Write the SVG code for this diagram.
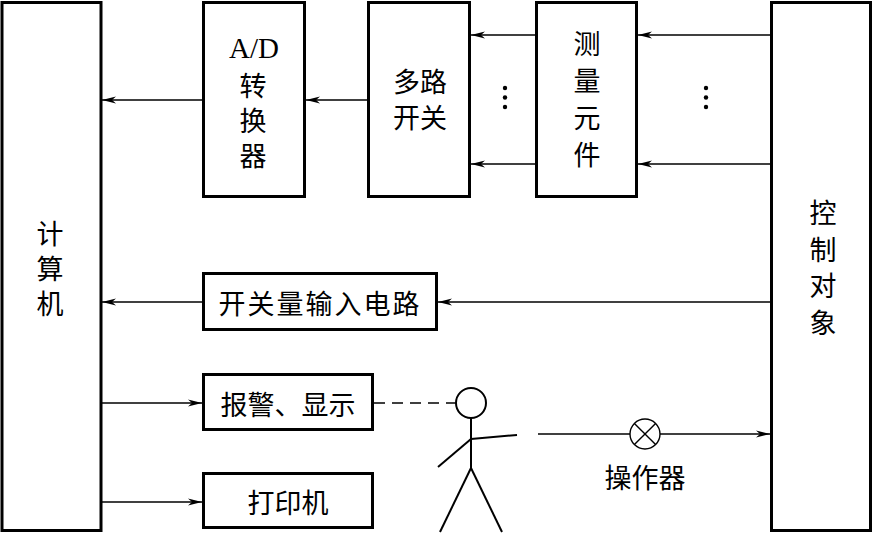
<svg xmlns="http://www.w3.org/2000/svg" width="874" height="535" viewBox="0 0 874 535">
<style>
.box{fill:#fff;stroke:#000;stroke-width:3}
.ln{fill:none;stroke:#000;stroke-width:1.4}
.arr{marker-end:url(#ah)}
.t{font-family:"Noto Sans CJK SC","Noto Sans",sans-serif;font-size:27px;fill:#000;text-anchor:middle;dominant-baseline:central}
.v{font-family:"Noto Sans CJK SC","Noto Sans",sans-serif;font-size:27px;fill:#000;writing-mode:vertical-rl;text-anchor:start}
.lat{font-family:"Liberation Serif",serif;font-size:29px;fill:#000;text-anchor:middle}
.fig{fill:none;stroke:#000;stroke-width:2}
</style>
<defs>
<marker id="ah" markerUnits="userSpaceOnUse" markerWidth="15" markerHeight="8" refX="14" refY="4" orient="auto">
<path d="M0,0.5 L14,4 L0,7.5 L4,4 Z" fill="#000"/>
</marker>
</defs>
<rect width="874" height="535" fill="#fff"/>
<g id="connectors">
<line class="ln arr" x1="203" y1="100" x2="102" y2="100"/>
<line class="ln arr" x1="368" y1="100" x2="306" y2="100"/>
<line class="ln arr" x1="536" y1="35" x2="471" y2="35"/>
<line class="ln arr" x1="536" y1="164" x2="471" y2="164"/>
<line class="ln arr" x1="771" y1="35" x2="638" y2="35"/>
<line class="ln arr" x1="771" y1="164" x2="638" y2="164"/>
<line class="ln arr" x1="771" y1="302" x2="438" y2="302"/>
<line class="ln arr" x1="203" y1="302" x2="102" y2="302"/>
<line class="ln arr" x1="101" y1="403" x2="202" y2="403"/>
<line class="ln arr" x1="101" y1="502" x2="202" y2="502"/>
<line class="ln" x1="374" y1="403" x2="456" y2="403" stroke-dasharray="11,7"/>
<line class="ln" x1="538" y1="434" x2="630" y2="434"/>
<line class="ln arr" x1="660" y1="434" x2="770" y2="434"/>
</g>
<g id="computer">
<rect class="box" x="2" y="2.5" width="99" height="528"/>
<text class="v" x="50" y="220.5" letter-spacing="8">计算机</text>
</g>
<g id="ad">
<rect class="box" x="203.5" y="2.5" width="101" height="194"/>
<text class="lat" x="254" y="58">A/D</text>
<text class="v" x="253" y="72.5" letter-spacing="8">转换器</text>
</g>
<g id="mux">
<rect class="box" x="368.5" y="2.5" width="101" height="194"/>
<text class="t" font-size="26"><tspan x="420" y="80">多路</tspan><tspan x="420" y="116">开关</tspan></text>
</g>
<g id="dots1" fill="#000">
<circle cx="505" cy="88" r="2.2"/><circle cx="505" cy="97.5" r="2.2"/><circle cx="505" cy="107" r="2.2"/>
</g>
<g id="sensor">
<rect class="box" x="536.5" y="2.5" width="100" height="194"/>
<text class="v" x="587" y="30.5" letter-spacing="10">测量元件</text>
</g>
<g id="dots2" fill="#000">
<circle cx="706" cy="88" r="2.2"/><circle cx="706" cy="97.5" r="2.2"/><circle cx="706" cy="107" r="2.2"/>
</g>
<g id="plant">
<rect class="box" x="771.5" y="2.5" width="99" height="528"/>
<text class="v" x="823" y="199.5" letter-spacing="9.5">控制对象</text>
</g>
<g id="switch-input">
<rect class="box" x="203.5" y="273.5" width="233" height="56"/>
<text class="t" x="320" y="302" letter-spacing="2">开关量输入电路</text>
</g>
<g id="alarm">
<rect class="box" x="203.5" y="374.5" width="169" height="55"/>
<text class="t" x="288" y="403">报警、显示</text>
</g>
<g id="printer">
<rect class="box" x="203.5" y="473.5" width="169" height="54"/>
<text class="t" x="288" y="501">打印机</text>
</g>
<g id="operator">
<circle class="fig" cx="471" cy="403" r="15"/>
<line class="fig" x1="471" y1="418" x2="471" y2="468"/>
<line class="fig" x1="438" y1="467" x2="471" y2="439"/>
<line class="fig" x1="471" y1="439" x2="517" y2="435"/>
<line class="fig" x1="471" y1="468" x2="440" y2="532"/>
<line class="fig" x1="471" y1="468" x2="502" y2="532"/>
</g>
<g id="actuator">
<circle class="ln" cx="645" cy="434" r="15"/>
<line class="ln" x1="634.4" y1="423.4" x2="655.6" y2="444.6"/>
<line class="ln" x1="655.6" y1="423.4" x2="634.4" y2="444.6"/>
<text class="t" x="645" y="476">操作器</text>
</g>
</svg>
